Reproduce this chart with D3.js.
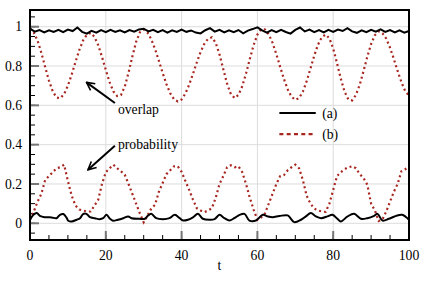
<!DOCTYPE html>
<html>
<head>
<meta charset="utf-8">
<script src="https://cdn.jsdelivr.net/npm/d3@7"></script>
<style>
  body { margin: 0; background: #fff; }
  svg text { font-family: "Liberation Serif", "Times New Roman", serif; font-size: 13.7px; fill: #000; }
</style>
</head>
<body>
<div id="chart"></div>
<script>
// x ticks / y ticks
var xTicks = [0, 20, 40, 60, 80, 100];
var yTicks = [0, 0.2, 0.4, 0.6, 0.8, 1];
var yTickLabels = ["0", "0.2", "0.4", "0.6", "0.8", "1"];

// (a) overlap, sampled every 1.25
var tOverlapA = d3.range(0, 100.01, 1.25);
var overlapA = [0.990, 0.975, 0.983, 0.971, 0.982, 0.973, 0.984, 0.972, 0.985, 0.978,
  0.996, 0.974, 0.965, 0.979, 0.970, 0.983, 0.972, 0.984, 0.973, 0.982,
  0.971, 0.983, 0.975, 0.986, 0.990, 0.976, 0.984, 0.972, 0.983, 0.970,
  0.982, 0.973, 0.985, 0.974, 0.981, 0.970, 0.966, 0.982, 0.993, 0.975,
  0.984, 0.971, 0.982, 0.972, 0.983, 0.966, 0.980, 0.988, 0.997, 0.981,
  0.970, 0.983, 0.972, 0.984, 0.973, 0.965, 0.984, 0.996, 0.976, 0.985,
  0.972, 0.983, 0.971, 0.984, 0.973, 0.985, 0.978, 0.993, 0.976, 0.969,
  0.982, 0.972, 0.984, 0.975, 0.986, 0.974, 0.983, 0.971, 0.982, 0.970, 0.978];

// (b) overlap, sampled every 1
var tB = d3.range(0, 101, 1);
var overlapB = [0.990, 0.970, 0.929, 0.867, 0.795, 0.726, 0.671, 0.640, 0.636, 0.657,
  0.700, 0.757, 0.820, 0.881, 0.930, 0.960, 0.968, 0.949, 0.906, 0.846,
  0.780, 0.718, 0.671, 0.647, 0.652, 0.695, 0.766, 0.848, 0.923, 0.972,
  0.985, 0.970, 0.936, 0.886, 0.827, 0.765, 0.708, 0.661, 0.631, 0.620,
  0.630, 0.660, 0.705, 0.760, 0.818, 0.871, 0.913, 0.939, 0.946, 0.918,
  0.859, 0.784, 0.710, 0.657, 0.637, 0.653, 0.697, 0.762, 0.836, 0.906,
  0.960, 0.987, 0.986, 0.961, 0.918, 0.860, 0.796, 0.734, 0.681, 0.644,
  0.628, 0.637, 0.670, 0.723, 0.787, 0.853, 0.909, 0.947, 0.960, 0.941,
  0.889, 0.815, 0.736, 0.670, 0.630, 0.625, 0.653, 0.705, 0.774, 0.847,
  0.912, 0.957, 0.976, 0.967, 0.939, 0.893, 0.836, 0.775, 0.718, 0.672, 0.650];

var probB = [0.020, 0.060, 0.110, 0.150, 0.220, 0.240, 0.260, 0.280, 0.285, 0.298,
  0.215, 0.140, 0.090, 0.070, 0.065, 0.060, 0.060, 0.090, 0.120, 0.200,
  0.260, 0.280, 0.298, 0.280, 0.265, 0.247, 0.200, 0.150, 0.100, 0.050,
  0.005, 0.040, 0.075, 0.094, 0.160, 0.205, 0.250, 0.270, 0.290, 0.290,
  0.262, 0.215, 0.170, 0.120, 0.077, 0.065, 0.057, 0.065, 0.077, 0.130,
  0.200, 0.240, 0.285, 0.295, 0.285, 0.290, 0.260, 0.200, 0.130, 0.070,
  0.018, 0.030, 0.050, 0.100, 0.150, 0.200, 0.240, 0.245, 0.270, 0.285,
  0.298, 0.280, 0.220, 0.140, 0.100, 0.075, 0.065, 0.060, 0.058, 0.100,
  0.170, 0.240, 0.260, 0.275, 0.285, 0.290, 0.280, 0.250, 0.230, 0.196,
  0.100, 0.065, 0.012, 0.020, 0.060, 0.110, 0.160, 0.200, 0.265, 0.275, 0.290];

// (a) probability, read at irregular t
var tProbA = [0, 0.9, 1.8, 2.6, 3.9, 5.7, 7.0, 7.9, 8.8, 9.6, 10.1, 11.0, 12.3, 13.2, 14.0, 14.9,
  15.8, 17.1, 18.4, 19.3, 20.2, 21.1, 21.9, 23.2, 24.6, 25.9, 26.8, 28.9, 30.3, 31.1, 32.0,
  33.3, 35.1, 36.8, 38.2, 39.5, 40.4, 41.7, 43.0, 44.3, 45.6, 47.4, 48.7, 50.0, 51.3, 52.6,
  53.9, 55.3, 56.6, 57.9, 59.6, 61.4, 62.7, 64.0, 65.8, 68.0, 69.7, 71.5, 72.8, 74.1, 75.4,
  76.8, 78.5, 79.8, 81.1, 82.0, 83.8, 85.5, 87.3, 89.0, 90.8, 91.7, 93.0, 94.7, 96.9, 98.2, 100];
var probA = [0.018, 0.043, 0.052, 0.038, 0.031, 0.030, 0.026, 0.043, 0.047, 0.030, 0.013, 0.009,
  0.018, 0.026, 0.047, 0.048, 0.031, 0.026, 0.021, 0.026, 0.043, 0.023, 0.013, 0.018, 0.026,
  0.035, 0.026, 0.023, 0.023, 0.038, 0.048, 0.026, 0.021, 0.026, 0.043, 0.026, 0.014, 0.018,
  0.030, 0.048, 0.023, 0.018, 0.021, 0.043, 0.026, 0.014, 0.026, 0.043, 0.048, 0.014, 0.014,
  0.043, 0.035, 0.031, 0.037, 0.040, 0.006, 0.018, 0.035, 0.052, 0.035, 0.026, 0.035, 0.043,
  0.023, 0.009, 0.035, 0.048, 0.023, 0.026, 0.038, 0.048, 0.014, 0.023, 0.040, 0.043, 0.018];

var legendLabels = ["(a)", "(b)"];

var width = 423, height = 287;
var margin = { left: 30, right: 14, top: 10, bottom: 47 };
var red = "#a8261f";

var x = d3.scaleLinear().domain([0, 100]).range([margin.left, width - margin.right]);
var y = d3.scaleLinear().domain([-0.085, 1.085]).range([height - margin.bottom, margin.top]);

var svg = d3.select("#chart").append("svg")
  .attr("width", width)
  .attr("height", height);

// grid
svg.append("g").selectAll("line").data([20, 40, 60, 80]).enter().append("line")
  .attr("x1", function(d){ return x(d); }).attr("x2", function(d){ return x(d); })
  .attr("y1", y.range()[0]).attr("y2", y.range()[1])
  .attr("stroke", "#dcdcdc").attr("stroke-width", 1);
svg.append("g").selectAll("line").data(yTicks).enter().append("line")
  .attr("y1", function(d){ return y(d); }).attr("y2", function(d){ return y(d); })
  .attr("x1", x.range()[0]).attr("x2", x.range()[1])
  .attr("stroke", "#dcdcdc").attr("stroke-width", 1);

// minor ticks
svg.append("g").selectAll("line").data(d3.range(5, 100, 5)).enter().append("line")
  .attr("x1", function(d){ return x(d); }).attr("x2", function(d){ return x(d); })
  .attr("y1", y.range()[0]).attr("y2", y.range()[0] - 5)
  .attr("stroke", "#000").attr("stroke-width", 1);
svg.append("g").selectAll("line").data(d3.range(-0.05, 1.06, 0.05)).enter().append("line")
  .attr("y1", function(d){ return y(d); }).attr("y2", function(d){ return y(d); })
  .attr("x1", x.range()[0]).attr("x2", x.range()[0] + 5)
  .attr("stroke", "#000").attr("stroke-width", 1);

// major ticks
svg.append("g").selectAll("line").data(xTicks).enter().append("line")
  .attr("x1", function(d){ return x(d); }).attr("x2", function(d){ return x(d); })
  .attr("y1", y.range()[0]).attr("y2", y.range()[0] - 9)
  .attr("stroke", "#777").attr("stroke-width", 2);
svg.append("g").selectAll("line").data(yTicks).enter().append("line")
  .attr("y1", function(d){ return y(d); }).attr("y2", function(d){ return y(d); })
  .attr("x1", x.range()[0]).attr("x2", x.range()[0] + 9)
  .attr("stroke", "#777").attr("stroke-width", 2);

// tick labels
svg.append("g").selectAll("text").data(xTicks).enter().append("text")
  .attr("x", function(d){ return x(d); })
  .attr("y", y.range()[0] + 20)
  .attr("text-anchor", "middle")
  .text(function(d){ return d; });
svg.append("g").selectAll("text").data(yTicks).enter().append("text")
  .attr("x", x.range()[0] - 8)
  .attr("y", function(d){ return y(d) + 4.6; })
  .attr("text-anchor", "end")
  .text(function(d, i){ return yTickLabels[i]; });

svg.append("text")
  .attr("x", (x.range()[0] + x.range()[1]) / 2)
  .attr("y", y.range()[0] + 30)
  .attr("text-anchor", "middle")
  .text("t");

// lines
var lineLinear = d3.line()
  .x(function(d){ return x(d[0]); })
  .y(function(d){ return y(d[1]); });
var lineSmooth = d3.line()
  .curve(d3.curveCatmullRom)
  .x(function(d){ return x(d[0]); })
  .y(function(d){ return y(d[1]); });

svg.append("path")
  .datum(d3.zip(tB, overlapB))
  .attr("d", lineLinear)
  .attr("fill", "none").attr("stroke", red).attr("stroke-width", 2.2)
  .attr("stroke-dasharray", "2,3");
svg.append("path")
  .datum(d3.zip(tB, probB))
  .attr("d", lineLinear)
  .attr("fill", "none").attr("stroke", red).attr("stroke-width", 2.2)
  .attr("stroke-dasharray", "2,3");

svg.append("path")
  .datum(d3.zip(tOverlapA, overlapA))
  .attr("d", lineLinear)
  .attr("fill", "none").attr("stroke", "#000").attr("stroke-width", 2);
svg.append("path")
  .datum(d3.zip(tProbA, probA))
  .attr("d", lineSmooth)
  .attr("fill", "none").attr("stroke", "#000").attr("stroke-width", 2);

// frame
svg.append("rect")
  .attr("x", x.range()[0]).attr("y", y.range()[1])
  .attr("width", x.range()[1] - x.range()[0])
  .attr("height", y.range()[0] - y.range()[1])
  .attr("fill", "none").attr("stroke", "#000").attr("stroke-width", 2);

// legend
var legendY = [0.561, 0.454];
svg.append("line")
  .attr("x1", x(65.8)).attr("x2", x(75.4))
  .attr("y1", y(legendY[0])).attr("y2", y(legendY[0]))
  .attr("stroke", "#000").attr("stroke-width", 2);
svg.append("line")
  .attr("x1", x(65.8)).attr("x2", x(75.4))
  .attr("y1", y(legendY[1])).attr("y2", y(legendY[1]))
  .attr("stroke", red).attr("stroke-width", 2.2).attr("stroke-dasharray", "4,3.3");
svg.append("g").selectAll("text").data(legendLabels).enter().append("text")
  .attr("x", x(77.1))
  .attr("y", function(d, i){ return y(legendY[i]) + 4.5; })
  .text(function(d){ return d; });

// annotations
svg.append("defs").append("marker")
  .attr("id", "arrow")
  .attr("viewBox", "0 0 10 10")
  .attr("refX", 9).attr("refY", 5)
  .attr("markerWidth", 5).attr("markerHeight", 5)
  .attr("markerUnits", "strokeWidth")
  .attr("orient", "auto")
  .append("path")
  .attr("d", "M1,1 L9,5 L1,9")
  .attr("fill", "none").attr("stroke", "#000").attr("stroke-width", 1.6);

var notes = [
  { text: "overlap", from: [22.4, 0.612], to: [14.9, 0.717], label: [23.2, 0.555] },
  { text: "probability", from: [22.4, 0.394], to: [15.3, 0.272], label: [23.2, 0.377] }
];
notes.forEach(function(n){
  svg.append("line")
    .attr("x1", x(n.from[0])).attr("y1", y(n.from[1]))
    .attr("x2", x(n.to[0])).attr("y2", y(n.to[1]))
    .attr("stroke", "#000").attr("stroke-width", 2)
    .attr("marker-end", "url(#arrow)");
  svg.append("text")
    .attr("x", x(n.label[0])).attr("y", y(n.label[1]))
    .text(n.text);
});
</script>
</body>
</html>
